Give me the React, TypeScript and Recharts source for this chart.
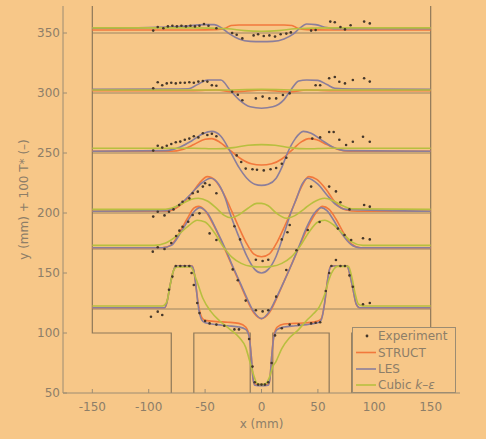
import { ComposedChart, Line, Scatter, XAxis, YAxis } from 'recharts'

type Pt = [number, number]

const xTicks = [-150, -100, -50, 0, 50, 100, 150]
const yTicks = [50, 100, 150, 200, 250, 300, 350]
const baselines = [350, 300, 250, 200, 170, 120]

// geometry outline
const wallLeft: Pt[] = [[-150, 372.5], [-150, 100], [-80, 100], [-80, 50]]
const wallMid: Pt[] = [[-60, 50], [-60, 100], [-10, 100], [-10, 50]]
const wallMid2: Pt[] = [[10, 50], [10, 100], [60, 100], [60, 50]]
const wallRight: Pt[] = [[80, 50], [80, 100], [150, 100], [150, 372.5]]

// y = 350
const exp350: Pt[] = [[-96, 352], [-92, 355], [-87, 354], [-83, 355.5], [-79, 356], [-75, 355.5], [-71, 356], [-67, 355.5], [-63, 356], [-59, 355.5], [-55, 356], [-51, 357.5], [-47, 356], [-40, 354], [-26, 350], [-22, 348.5], [-17, 345.5], [-7, 348], [-3, 349], [2, 347.5], [7, 348], [12, 347], [17, 349], [22, 349.5], [26, 350.5], [44, 352], [48, 352.5], [61, 359.5], [65, 359], [70, 355], [74, 353], [79, 356.5], [91, 359.5], [96, 358]]
const struct350: Pt[] = [[-150, 352.5], [-100, 352.5], [-60, 352.5], [-40, 352.8], [-32, 354], [-27, 356.3], [-20, 356.7], [0, 356.7], [20, 356.7], [27, 356.3], [32, 354], [40, 352.8], [60, 352.5], [100, 352.5], [150, 352.5]]
const les350: Pt[] = [[-150, 354], [-100, 354.5], [-70, 355.5], [-50, 357], [-42, 357], [-35, 354], [-28, 349], [-20, 345], [-10, 343], [0, 342.8], [10, 343], [20, 345], [28, 349], [34, 354], [40, 357.5], [48, 357], [58, 354.5], [70, 353.5], [100, 353.5], [150, 353.5]]
const cubic350: Pt[] = [[-150, 354.3], [-60, 354.3], [-30, 353.5], [-15, 352], [0, 351.5], [15, 352], [30, 353.5], [60, 354.3], [150, 354.3]]

// y = 300
const exp300: Pt[] = [[-96, 304], [-92, 309], [-88, 306.5], [-84, 308], [-80, 308.5], [-76, 308], [-72, 308.5], [-68, 308.5], [-64, 309], [-60, 308.5], [-56, 309.5], [-52, 310], [-48, 309.5], [-44, 306.5], [-40, 306], [-26, 301], [-21, 298.5], [-17, 294], [-5, 295.5], [1, 297], [7, 295.5], [13, 295.5], [19, 298.3], [25, 299.7], [48, 306.5], [52, 306.5], [60, 312.3], [65, 313.3], [69, 309.4], [74, 308], [81, 310.8], [91, 312.3], [96, 309.5]]
const struct300: Pt[] = [[-150, 302], [-60, 302], [-40, 302.5], [-25, 301], [-15, 301.5], [0, 302.5], [15, 301.5], [25, 301], [40, 302.5], [60, 302], [150, 302]]
const les300: Pt[] = [[-150, 303], [-80, 303.3], [-65, 303.5], [-55, 308], [-48, 310.8], [-36, 310.8], [-28, 302.5], [-20, 294.5], [-10, 288.5], [0, 287.3], [10, 288.5], [20, 294.5], [26, 302.5], [33, 310], [40, 310.8], [50, 310.5], [58, 307], [65, 304], [80, 303.3], [150, 303]]
const cubic300: Pt[] = [[-150, 302.5], [-40, 302.5], [0, 303], [40, 302.5], [150, 302.5]]

// y = 250
const exp250: Pt[] = [[-96, 252], [-92, 256], [-88, 254.5], [-84, 256], [-80, 257.5], [-76, 259], [-72, 259.5], [-68, 261], [-64, 262], [-60, 264], [-56, 263], [-52, 266.5], [-48, 265], [-44, 266], [-40, 264], [-22, 248], [-18, 242.5], [-14, 237], [-8, 236.5], [-4, 236], [2, 235.5], [8, 236.5], [13, 237.5], [18, 241], [22, 246], [45, 262], [52, 263], [60, 267.5], [64, 267.5], [69, 261], [75, 256.7], [81, 259.4], [90, 263.6], [96, 259.4]]
const struct250: Pt[] = [[-150, 251.5], [-80, 251.5], [-70, 253], [-60, 257], [-50, 261.5], [-44, 262], [-37, 259], [-27, 251.5], [-18, 245], [-9, 241], [0, 240], [9, 241], [18, 245], [26, 251.5], [35, 259], [42, 262], [49, 261], [58, 257], [68, 253], [78, 251.5], [150, 251.5]]
const les250: Pt[] = [[-150, 251.5], [-85, 252], [-72, 255], [-62, 260], [-52, 266], [-44, 268], [-36, 264], [-27, 250], [-20, 238], [-13, 229], [-6, 224], [0, 223], [6, 224], [13, 229], [18, 238], [23, 250], [30, 262], [37, 268], [44, 266.5], [53, 261], [63, 255], [75, 252], [150, 251.5]]
const cubic250: Pt[] = [[-150, 254], [-60, 254], [-40, 253.5], [-25, 254.5], [-12, 256.5], [0, 257], [12, 256.5], [25, 254.5], [40, 253.5], [60, 254], [150, 254]]

// y = 200
const exp200: Pt[] = [[-96, 197], [-92, 201], [-86, 198], [-82, 201], [-78, 203], [-73, 206.7], [-70, 209.4], [-64, 212.2], [-61, 216.4], [-56.5, 217.8], [-52, 222], [-50, 224.8], [-46, 223.3], [-40, 216.4], [-24, 189], [-19, 178], [-5, 161], [1, 160], [6, 161], [18, 178], [23, 184], [25, 190], [44, 222], [60, 222], [66, 218], [70, 209], [78, 203], [91, 206.7], [96, 205.3]]
const struct200: Pt[] = [[-150, 201.5], [-85, 201.5], [-78, 203], [-70, 208], [-62, 216], [-55, 225], [-48, 230.3], [-41, 227], [-34, 217], [-28, 205], [-21, 190], [-14, 176], [-7, 166], [0, 163.5], [7, 166], [14, 176], [21, 190], [28, 205], [35, 221], [42, 230.3], [49, 228], [57, 220], [66, 208], [75, 202.5], [85, 201.5], [150, 201.5]]
const les200: Pt[] = [[-150, 201.5], [-85, 202], [-78, 204], [-70, 209], [-62, 216.5], [-53, 225], [-45, 229], [-38, 224], [-32, 212], [-28, 200], [-20, 180], [-13, 164], [-6, 153], [0, 150], [6, 153], [13, 164], [19, 180], [26, 200], [31, 212], [36, 224], [41, 229], [50, 224], [58, 215], [66, 207], [75, 203], [150, 201.5]]
const cubic200: Pt[] = [[-150, 203], [-90, 203], [-80, 204], [-70, 208], [-62, 211.5], [-56, 212.3], [-48, 210], [-40, 204], [-33, 198], [-27, 196], [-20, 198.5], [-12, 204], [-4, 208], [0, 208], [6, 206], [13, 200], [22, 195.6], [30, 198], [38, 203.5], [46, 209], [56, 212.3], [64, 210], [72, 206], [80, 203.5], [150, 203]]

// y = 170
const exp170: Pt[] = [[-96.4, 167.8], [-92, 171.4], [-86, 170], [-80, 175], [-75.7, 180.8], [-72.8, 185.3], [-70, 188.6], [-65, 192.7], [-61, 198.3], [-55, 199.7], [-46, 183], [-40, 177.5], [-25.5, 153], [-21, 144], [-14, 127], [-5, 119], [1, 118], [6, 119], [13, 130.3], [22, 152.5], [31, 169], [41, 185.8], [51.5, 192.5], [67.7, 187], [73.6, 181.7], [79.5, 177.5], [90, 179], [96, 178]]
const struct170: Pt[] = [[-150, 171], [-88, 171], [-80, 173.5], [-73, 183], [-66, 195], [-60, 204], [-56, 205.5], [-50, 202], [-42, 189], [-34, 173], [-27, 158], [-20, 143], [-14, 130], [-7, 117], [0, 112], [7, 117], [14, 130], [20, 143], [27, 158], [34, 173], [41, 188], [49, 201], [54, 205.5], [60, 203], [66, 195], [73, 183], [80, 174], [88, 171], [150, 171]]
const les170: Pt[] = [[-150, 171], [-88, 171], [-80, 173], [-72, 183], [-65, 194], [-59, 202], [-55, 204.5], [-48, 200], [-40, 186], [-32, 170], [-25.5, 155.5], [-19, 142], [-13.6, 130.5], [-7, 118], [0, 112], [7, 118], [14, 131], [20, 143], [28, 160], [34, 174], [40, 188], [47, 200], [53, 204.5], [58, 202], [64, 194], [71, 183], [79, 174], [87, 171], [150, 171]]
const cubic170: Pt[] = [[-150, 173], [-95, 173], [-85, 175], [-75, 181], [-65, 189], [-57, 194], [-50, 192.5], [-42, 184], [-34, 172], [-26, 163], [-18, 158], [-9, 155.5], [0, 155], [9, 155.5], [18, 158], [26, 163], [34, 172], [42, 184], [50, 192.5], [56, 194], [64, 190], [72, 183], [80, 176], [90, 173], [150, 173]]

// y = 120
const exp120: Pt[] = [[-98, 113.6], [-92, 117.8], [-88, 115], [-82, 136], [-79, 147], [-76, 155.8], [-72, 155.8], [-68, 155.8], [-64, 155.8], [-62, 150], [-60, 140], [-57, 125], [-55, 116.6], [-50, 110], [-46, 108], [-40, 107], [-33, 106], [-24, 103], [-20, 103], [-11, 95], [-8, 72], [-6, 59], [-3, 57], [0, 57], [3, 57], [6, 59], [9, 75], [12, 98], [18, 104], [25, 107], [33, 107], [44, 108], [48, 108.5], [52, 109], [57, 135], [60, 150], [62, 155.8], [66, 160.8], [70, 155.8], [74, 155.8], [78, 148], [81, 138.6], [90, 124], [96, 125]]
const struct120: Pt[] = [[-150, 121], [-86, 121], [-84, 125], [-81, 140], [-78, 152], [-76, 156], [-62, 156], [-60, 152], [-58, 138], [-56, 124], [-53, 113], [-50, 110.5], [-40, 109.5], [-30, 109], [-20, 108], [-14, 105], [-11, 98], [-9, 80], [-7.5, 62], [-6, 57.5], [0, 57], [6, 57.5], [7.5, 62], [9, 80], [11, 98], [14, 105], [20, 107.5], [30, 108], [40, 108.5], [50, 110], [53, 112], [56, 125], [58, 140], [60, 152], [62, 156], [76, 156], [78, 150], [81, 137], [84, 124], [87, 121], [150, 121]]
const les120: Pt[] = [[-150, 121], [-86, 121], [-84, 125], [-81, 140], [-78, 152], [-76, 155.8], [-62, 155.8], [-60, 152], [-58, 138], [-56, 122], [-53, 111], [-50, 108.5], [-40, 107], [-30, 106], [-20, 105], [-14, 103], [-11, 97], [-9, 80], [-7.5, 62], [-6, 56.5], [0, 56], [6, 56.5], [7.5, 62], [9, 80], [11, 97], [14, 103], [20, 105], [30, 106], [40, 107], [50, 108.5], [53, 111], [56, 125], [58, 140], [60, 152], [62, 155.8], [76, 155.8], [78, 150], [81, 137], [84, 124], [87, 121], [150, 121]]
const cubic120: Pt[] = [[-150, 122.5], [-88, 122.5], [-84, 126], [-81, 140], [-78, 152], [-75, 155], [-63, 155], [-58, 145], [-52, 129], [-45, 118], [-37, 110], [-28, 103], [-19.5, 96], [-14, 88], [-10.6, 77], [-7, 65], [-4, 58], [0, 57], [4, 58], [7, 63], [10, 72], [12.7, 76], [18, 87], [24.8, 96], [32, 102], [39.6, 110], [46, 116], [51.4, 122], [56, 132], [60, 145], [64, 153], [67, 155.5], [77, 155.5], [80, 147], [83, 133], [86, 124], [90, 122.5], [150, 122.5]]

const BG = '#f7c788'
const TEXT = '#8d7e68'
const AXIS = '#9c8c72'
const WALL = '#8e7859'
const BASE = '#9b8563'
const STRUCT = '#f2783c'
const LES = '#8b7e9b'
const CUBIC = '#b8bf3f'
const DOT = '#45372a'

const rows = (pts: Pt[]) => pts.map(([x, y]) => ({ x, y }))

const XTick = ({ x, y, payload }: any) => (
  <g>
    <line x1={x} x2={x} y1={y - 9} y2={y - 13} stroke={AXIS} />
    <text x={x} y={y} dy="0.71em" textAnchor="middle" fill={TEXT} fontSize={12}>
      {payload.value}
    </text>
  </g>
)

const YTick = ({ x, y, payload }: any) => (
  <g>
    <line x1={x + 3} x2={x + 7} y1={y} y2={y} stroke={AXIS} />
    <text x={x} y={y} dy="0.35em" textAnchor="end" fill={TEXT} fontSize={12}>
      {payload.value}
    </text>
  </g>
)

function curve(key: string, pts: Pt[], color: string, width = 1.6, type: any = 'monotone') {
  return (
    <Line
      key={key}
      data={rows(pts)}
      dataKey="y"
      type={type}
      stroke={color}
      strokeWidth={width}
      dot={false}
      activeDot={false}
      isAnimationActive={false}
    />
  )
}

const structs = [struct350, struct300, struct250, struct200, struct170, struct120]
const less = [les350, les300, les250, les200, les170, les120]
const cubics = [cubic350, cubic300, cubic250, cubic200, cubic170, cubic120]
const exps = [exp350, exp300, exp250, exp200, exp170, exp120]

export default function App() {
  return (
    <div
      style={{
        position: 'absolute',
        left: 0,
        top: 0,
        width: 486,
        height: 439,
        background: BG,
        fontFamily: '"DejaVu Sans", sans-serif',
      }}
    >
      <ComposedChart width={486} height={439} margin={{ top: 6, right: 26, left: 0, bottom: 0 }}>
        <XAxis
          dataKey="x"
          type="number"
          domain={[-176, 176]}
          ticks={xTicks}
          allowDataOverflow
          height={46}
          tickSize={0}
          tickMargin={9}
          tickLine={false}
          axisLine={{ stroke: AXIS }}
          tick={<XTick />}
          label={{ value: 'x (mm)', position: 'insideBottom', offset: 11, fill: TEXT, fontSize: 12 }}
        />
        <YAxis
          dataKey="y"
          type="number"
          domain={[50, 372.5]}
          ticks={yTicks}
          allowDataOverflow
          width={63}
          tickSize={0}
          tickMargin={3}
          tickLine={false}
          axisLine={{ stroke: AXIS }}
          tick={<YTick />}
          label={{
            value: 'y (mm) + 100 T* (–)',
            angle: -90,
            position: 'insideLeft',
            offset: 24,
            fill: TEXT,
            fontSize: 12,
            style: { textAnchor: 'middle' },
          }}
        />
        {baselines.map((b) =>
          curve(`base${b}`, [[-150, b], [150, b]], BASE, 1.2, 'linear'),
        )}
        {[wallLeft, wallMid, wallMid2, wallRight].map((w, i) => curve(`wall${i}`, w, WALL, 1.2, 'linear'))}
        {structs.map((s, i) => curve(`s${i}`, s, STRUCT))}
        {less.map((s, i) => curve(`l${i}`, s, LES))}
        {cubics.map((s, i) => curve(`c${i}`, s, CUBIC))}
        {exps.map((e, i) => (
          <Scatter
            key={`e${i}`}
            data={rows(e)}
            isAnimationActive={false}
            shape={(p: any) => <circle cx={p.cx} cy={p.cy} r={1.3} fill={DOT} />}
          />
        ))}
      </ComposedChart>
      <div
        style={{
          position: 'absolute',
          left: 352,
          top: 327,
          width: 104,
          height: 66,
          border: `1px solid ${AXIS}`,
          background: BG,
          boxSizing: 'border-box',
        }}
      >
        <svg width={104} height={66} style={{ display: 'block' }}>
          <circle cx={14} cy={8} r={1.4} fill={DOT} />
          <text x={25} y={8} dy="0.35em" fill={TEXT} fontSize={12}>Experiment</text>
          <line x1={3} x2={23} y1={24.5} y2={24.5} stroke={STRUCT} strokeWidth={1.6} />
          <text x={25} y={24.5} dy="0.35em" fill={TEXT} fontSize={12}>STRUCT</text>
          <line x1={3} x2={23} y1={41} y2={41} stroke={LES} strokeWidth={1.6} />
          <text x={25} y={41} dy="0.35em" fill={TEXT} fontSize={12}>LES</text>
          <line x1={3} x2={23} y1={57} y2={57} stroke={CUBIC} strokeWidth={1.6} />
          <text x={25} y={57} dy="0.35em" fill={TEXT} fontSize={12}>
            Cubic <tspan fontStyle="italic">k</tspan>–<tspan fontStyle="italic">ε</tspan>
          </text>
        </svg>
      </div>
    </div>
  )
}
